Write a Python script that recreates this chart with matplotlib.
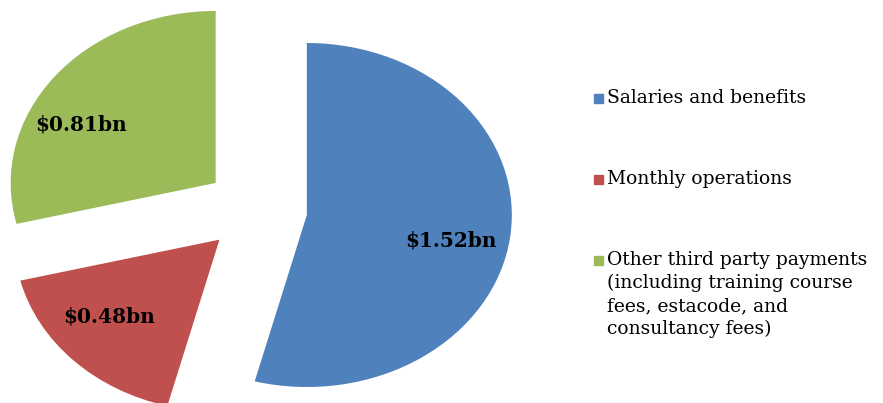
import matplotlib
matplotlib.use("Agg")
import matplotlib.pyplot as plt
from matplotlib.patches import Rectangle
import numpy as np

# data
labels = ["Salaries and benefits",
          "Monthly operations",
          "Other third party payments\n(including training course\nfees, estacode, and\nconsultancy fees)"]
values = [1.52, 0.48, 0.81]
colors = ["#4F81BD", "#C0504D", "#9BBB59"]
explode = [0.25, 0.25, 0.25]

plt.rcParams['font.family'] = ['DejaVu Serif']

W, H = 883, 403
fig = plt.figure(figsize=(W / 100, H / 100), dpi=100)

# pie axes: stretched ellipse like the original (rx ~205px, ry ~172px)
cx, cy, rx, ry = 256, 209.5, 205, 172
ax_w = 560
ax = fig.add_axes([0, 0, ax_w / W, 1])
wedges, texts, autotexts = ax.pie(
    values, colors=colors, explode=explode, startangle=90, counterclock=False,
    autopct=lambda p: "${:.2f}bn".format(p * sum(values) / 100),
    pctdistance=0.72, wedgeprops=dict(linewidth=0),
    textprops=dict(fontsize=14.5, fontweight='bold', color='black'))

# nudge the value labels a bit around each wedge centre, like Excel places them
label_shift = [-4.5, -5, 11]   # degrees
label_r = [0.72, 0.70, 0.74]
for w, t, d, r in zip(wedges, autotexts, label_shift, label_r):
    a = np.deg2rad((w.theta1 + w.theta2) / 2 + d)
    t.set_position((w.center[0] + r * np.cos(a), w.center[1] + r * np.sin(a)))

ax.set_aspect('auto')
ax.set_xlim(-cx / rx, (ax_w - cx) / rx)
ax.set_ylim((cy - H) / ry, cy / ry)
ax.axis('off')

# legend drawn by hand
y0 = 98
step = 81
for i, (lab, col) in enumerate(zip(labels, colors)):
    y = y0 + i * step
    fig.patches.append(Rectangle((594 / W, 1 - (y + 5) / H), 9 / W, 9 / H,
                                 transform=fig.transFigure, color=col))
    fig.text(607 / W, 1 - (y - 9) / H, lab, fontsize=13.5, va='top',
             ha='left', linespacing=1.35)

fig.savefig("out.png", dpi=100)
